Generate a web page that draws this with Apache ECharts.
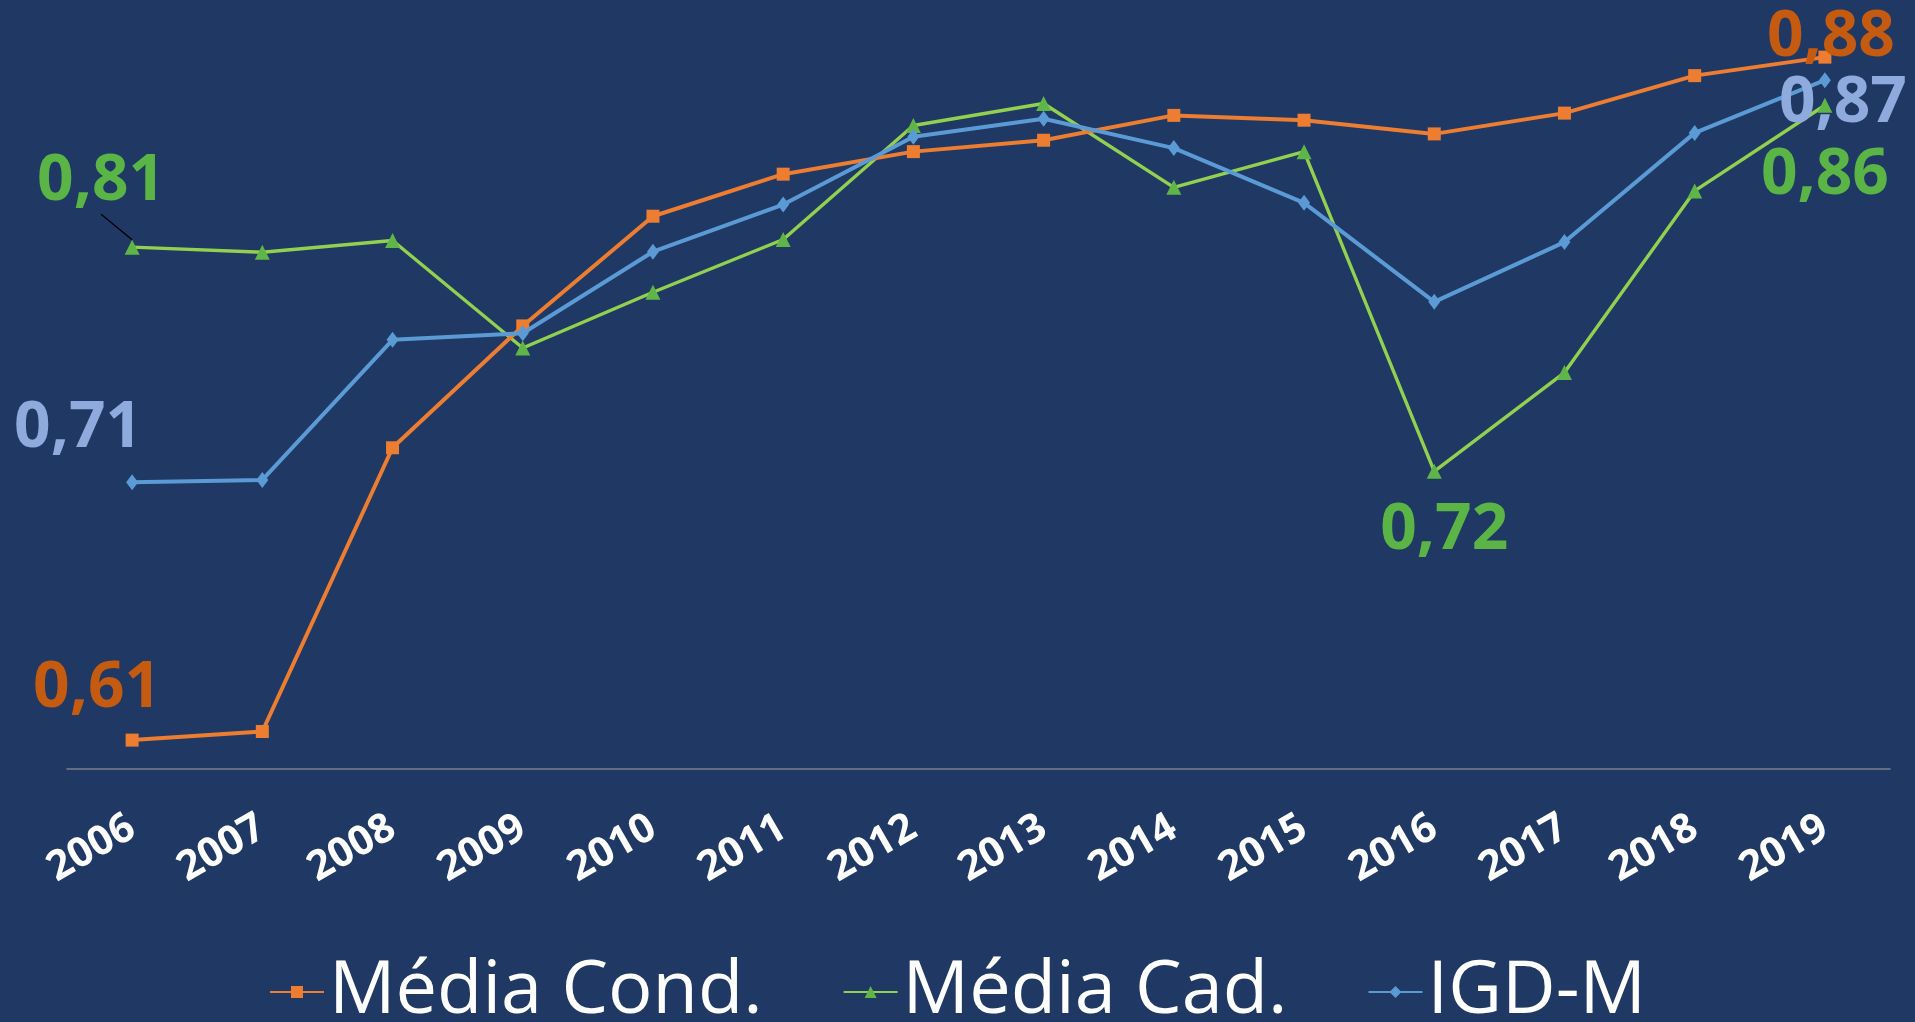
<!DOCTYPE html>
<html>
<head>
<meta charset="utf-8">
<script src="https://cdn.jsdelivr.net/npm/echarts@6/dist/echarts.min.js"></script>
<style>
  html, body { margin: 0; padding: 0; background: #203864; }
  #chart { width: 1915px; height: 1022px; }
</style>
</head>
<body>
<div id="chart"></div>
<script>
const years = ['2006','2007','2008','2009','2010','2011','2012','2013','2014','2015','2016','2017','2018','2019'];
const mediaCond = [0.6114, 0.6148, 0.7268, 0.7749, 0.8182, 0.8348, 0.8437, 0.8482, 0.8580, 0.8561, 0.8507, 0.8589, 0.8737, 0.8810];
const mediaCad  = [0.8060, 0.8040, 0.8086, 0.7662, 0.7882, 0.8090, 0.8540, 0.8627, 0.8296, 0.8437, 0.7175, 0.7565, 0.8282, 0.8620];
const igdM      = [0.7132, 0.7141, 0.7694, 0.7720, 0.8042, 0.8228, 0.8496, 0.8567, 0.8451, 0.8235, 0.7844, 0.8080, 0.8511, 0.8719];
const seriesNames = ['Média Cond.', 'Média Cad.', 'IGD-M'];

// which points carry a value label, and how far the label sits from its point
const labelOffsets = {
  0: { 0: [-35, -51], 13: [6, -19] },
  1: { 0: [-31, -65], 10: [10, 59], 13: [0, 70] },
  2: { 0: [-54, -53], 13: [18, 24] }
};
// labels drawn with a guide line back to their point
const leaderLabels = { 1: [0] };

const fmt = v => v.toFixed(2).replace('.', ',');

function buildData(values, seriesIdx, labelColor) {
  const leaders = leaderLabels[seriesIdx] || [];
  const useLayout = leaders.length > 0;
  return values.map((v, i) => {
    const off = labelOffsets[seriesIdx][i];
    if (!off) return v;
    const item = {
      value: v,
      label: {
        show: true,
        position: 'inside',
        offset: useLayout ? [0, 0] : off,
        formatter: p => fmt(p.value),
        color: labelColor,
        fontFamily: 'Open Sans',
        fontWeight: 'bold',
        fontSize: 64
      }
    };
    if (leaders.indexOf(i) >= 0) {
      item.labelLine = { show: true, lineStyle: { color: '#000000', width: 1.3 } };
    }
    return item;
  });
}

function labelLayoutFor(seriesIdx) {
  return function (params) {
    const off = labelOffsets[seriesIdx][params.dataIndex];
    return off ? { dx: off[0], dy: off[1] } : {};
  };
}

const chart = echarts.init(document.getElementById('chart'), null, { renderer: 'canvas' });

const option = {
  backgroundColor: '#203864',
  animation: false,
  grid: { left: 67, right: 25, top: 9, bottom: 253, containLabel: false },
  xAxis: {
    type: 'category',
    data: years,
    boundaryGap: true,
    axisLine: { show: true, lineStyle: { color: '#7b808c', width: 1.5 } },
    axisTick: { show: false },
    axisLabel: {
      rotate: 30,
      margin: 56,
      color: '#ffffff',
      fontFamily: 'Open Sans',
      fontWeight: 'bold',
      fontSize: 41,
      interval: 0
    },
    splitLine: { show: false }
  },
  yAxis: {
    type: 'value',
    min: 0.6,
    max: 0.9,
    show: false,
    splitLine: { show: false }
  },
  legend: {
    data: seriesNames,
    top: 950,
    left: 'center',
    itemWidth: 54,
    itemHeight: 15,
    itemGap: 80,
    textStyle: {
      color: '#ffffff',
      fontFamily: 'Open Sans',
      fontSize: 74
    }
  },
  series: [
    {
      name: seriesNames[0],
      type: 'line',
      data: buildData(mediaCond, 0, '#C55A11'),
      symbol: 'rect',
      symbolSize: 13,
      lineStyle: { color: '#ED7D31', width: 4 },
      itemStyle: { color: '#ED7D31' },
      z: 3
    },
    {
      name: seriesNames[1],
      type: 'line',
      data: buildData(mediaCad, 1, '#5AB546'),
      labelLayout: labelLayoutFor(1),
      symbol: 'triangle',
      symbolSize: 15,
      lineStyle: { color: '#92D050', width: 3.4 },
      itemStyle: { color: '#5FB548' },
      z: 2
    },
    {
      name: seriesNames[2],
      type: 'line',
      data: buildData(igdM, 2, '#8FAADC'),
      symbol: 'diamond',
      symbolSize: [12, 16],
      lineStyle: { color: '#5B9BD5', width: 4 },
      itemStyle: { color: '#5B9BD5' },
      z: 4
    }
  ]
};

chart.setOption(option);
</script>
</body>
</html>
